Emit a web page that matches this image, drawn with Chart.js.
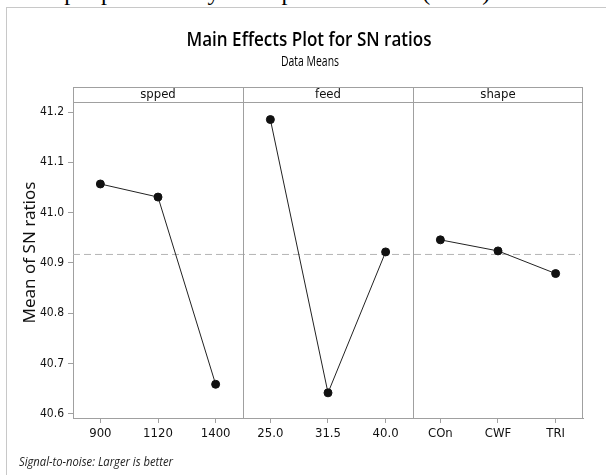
<!DOCTYPE html>
<html>
<head>
<meta charset="utf-8">
<script src="https://cdn.jsdelivr.net/npm/chart.js@4.4.1/dist/chart.umd.min.js"></script>
<style>
  body { margin: 0; background: #fff; overflow: hidden; }
  #wrap { position: relative; width: 606px; height: 475px; overflow: hidden; }
  #cut { position: absolute; left: 1px; top: -20px; font: 24px/24px "Liberation Serif", "Times New Roman", serif; color: #000; white-space: nowrap; }
  #frame { position: absolute; left: 6px; top: 7px; width: 620px; height: 500px; border-left: 1px solid #c8c8c8; border-top: 1px solid #c8c8c8; }
  canvas { position: absolute; left: 0; top: 0; }
</style>
</head>
<body>
<div id="wrap">
  <div id="cut">ective pin profile of cylinder pin wear rates (CWF)</div>
  <div id="frame"></div>
  <canvas id="chart" width="606" height="475"></canvas>
</div>
<script>
// factors and their levels
const factorNames = ['spped', 'feed', 'shape'];
const speedLevels = ['900', '1120', '1400'];
const feedLevels = ['25.0', '31.5', '40.0'];
const shapeLevels = ['COn', 'CWF', 'TRI'];

// mean of SN ratios per level
const speedMeans = [41.057, 41.031, 40.659];
const feedMeans = [41.185, 40.642, 40.922];
const shapeMeans = [40.946, 40.924, 40.879];
const overallMean = 40.917;

const yTicks = [40.6, 40.7, 40.8, 40.9, 41.0, 41.1, 41.2];

const PANEL = 2.95;   // panel width in level units
const MARGIN = 0.475;
const narrow = '"DejaVu Sans Condensed", "DejaVu Sans", sans-serif';

const levels = [speedLevels, feedLevels, shapeLevels];
const means = [speedMeans, feedMeans, shapeMeans];
const allLevels = levels.flat();
const tickPos = [];
levels.forEach((lv, p) => lv.forEach((_, i) => tickPos.push(p * PANEL + i)));

const xMin = -MARGIN;
const xMax = 3 * PANEL - MARGIN;

const factorSets = means.map((m, p) => ({
    type: 'line',
    label: factorNames[p],
    data: m.map((v, i) => ({ x: p * PANEL + i, y: v })),
    borderColor: '#222',
    borderWidth: 1,
    pointRadius: 4,
    pointBackgroundColor: '#111',
    pointBorderColor: '#111',
    order: 1
}));

const meanSet = {
    type: 'line',
    label: 'mean',
    data: [{ x: xMin, y: overallMean }, { x: xMax - 0.05, y: overallMean }],
    borderColor: '#b4b4b4',
    borderWidth: 1,
    borderDash: [7, 4],
    pointRadius: 0,
    order: 2
};

// squeeze text into a given width, the source uses a narrow face
function fitText(ctx, text, cx, cy, width) {
    const w = ctx.measureText(text).width;
    const k = Math.min(1, width / w);
    ctx.save();
    ctx.translate(cx, cy);
    ctx.scale(k, 1);
    ctx.fillText(text, 0, 0);
    ctx.restore();
}

const framePlugin = {
    id: 'frame',
    afterDraw(chart) {
        const { ctx, chartArea: a, scales: { x } } = chart;
        const headBottom = a.top + 15;
        ctx.save();
        ctx.strokeStyle = '#a0a0a0';
        ctx.lineWidth = 1;
        ctx.beginPath();
        ctx.moveTo(a.left, a.top + 0.5); ctx.lineTo(a.right, a.top + 0.5);
        ctx.moveTo(a.left, headBottom + 0.5); ctx.lineTo(a.right, headBottom + 0.5);
        ctx.moveTo(a.right - 0.5, a.top); ctx.lineTo(a.right - 0.5, a.bottom);
        for (let p = 1; p < 3; p++) {
            const px = Math.round(x.getPixelForValue(p * PANEL - MARGIN)) + 0.5;
            ctx.moveTo(px, a.top); ctx.lineTo(px, a.bottom);
        }
        ctx.stroke();

        // panel headers
        ctx.fillStyle = '#111';
        ctx.font = '13px ' + narrow;
        ctx.textAlign = 'center';
        ctx.textBaseline = 'middle';
        factorNames.forEach((name, p) => {
            const cx = x.getPixelForValue(p * PANEL + 1);
            ctx.fillText(name, cx, a.top + 8);
        });

        // titles
        ctx.fillStyle = '#000';
        ctx.font = '600 20px "Open Sans", sans-serif';
        fitText(ctx, 'Main Effects Plot for SN ratios', 309, 40, 245);
        ctx.font = '14px "Open Sans", sans-serif';
        fitText(ctx, 'Data Means', 310, 62, 58);

        ctx.textAlign = 'left';
        ctx.font = 'italic 12px "Open Sans", sans-serif';
        ctx.fillStyle = '#222';
        fitText(ctx, 'Signal-to-noise: Larger is better', 19, 463, 154);
        ctx.restore();
    }
};

new Chart(document.getElementById('chart'), {
    type: 'line',
    data: { datasets: [meanSet, ...factorSets] },
    options: {
        responsive: false,
        animation: false,
        layout: { padding: { top: 87, right: 23, left: 0, bottom: 0 } },
        plugins: { legend: { display: false }, tooltip: { enabled: false } },
        scales: {
            x: {
                type: 'linear',
                min: xMin,
                max: xMax,
                afterFit(scale) { scale.height = 57; },
                afterBuildTicks(scale) { scale.ticks = tickPos.map(v => ({ value: v })); },
                grid: { display: true, drawOnChartArea: false, drawTicks: true, tickLength: 5, color: '#a0a0a0' },
                border: { display: true, color: '#a0a0a0' },
                ticks: {
                    autoSkip: false,
                    maxRotation: 0,
                    padding: 3,
                    color: '#111',
                    font: { family: narrow, size: 13 },
                    callback: (v, i) => allLevels[i]
                }
            },
            y: {
                min: 40.592,
                max: 41.2497,
                afterFit(scale) { scale.width = 73; },
                afterBuildTicks(scale) { scale.ticks = yTicks.map(v => ({ value: v })); },
                grid: { display: true, drawOnChartArea: false, drawTicks: true, tickLength: 5, color: '#a0a0a0' },
                border: { display: true, color: '#a0a0a0' },
                ticks: {
                    padding: 4,
                    color: '#111',
                    font: { family: narrow, size: 12 },
                    callback: v => v.toFixed(1)
                },
                title: {
                    display: true,
                    text: 'Mean of SN ratios',
                    color: '#111',
                    font: { family: '"Noto Sans", sans-serif', size: 17 },
                    padding: { top: 20, bottom: 0 }
                }
            }
        }
    },
    plugins: [framePlugin]
});
</script>
</body>
</html>
